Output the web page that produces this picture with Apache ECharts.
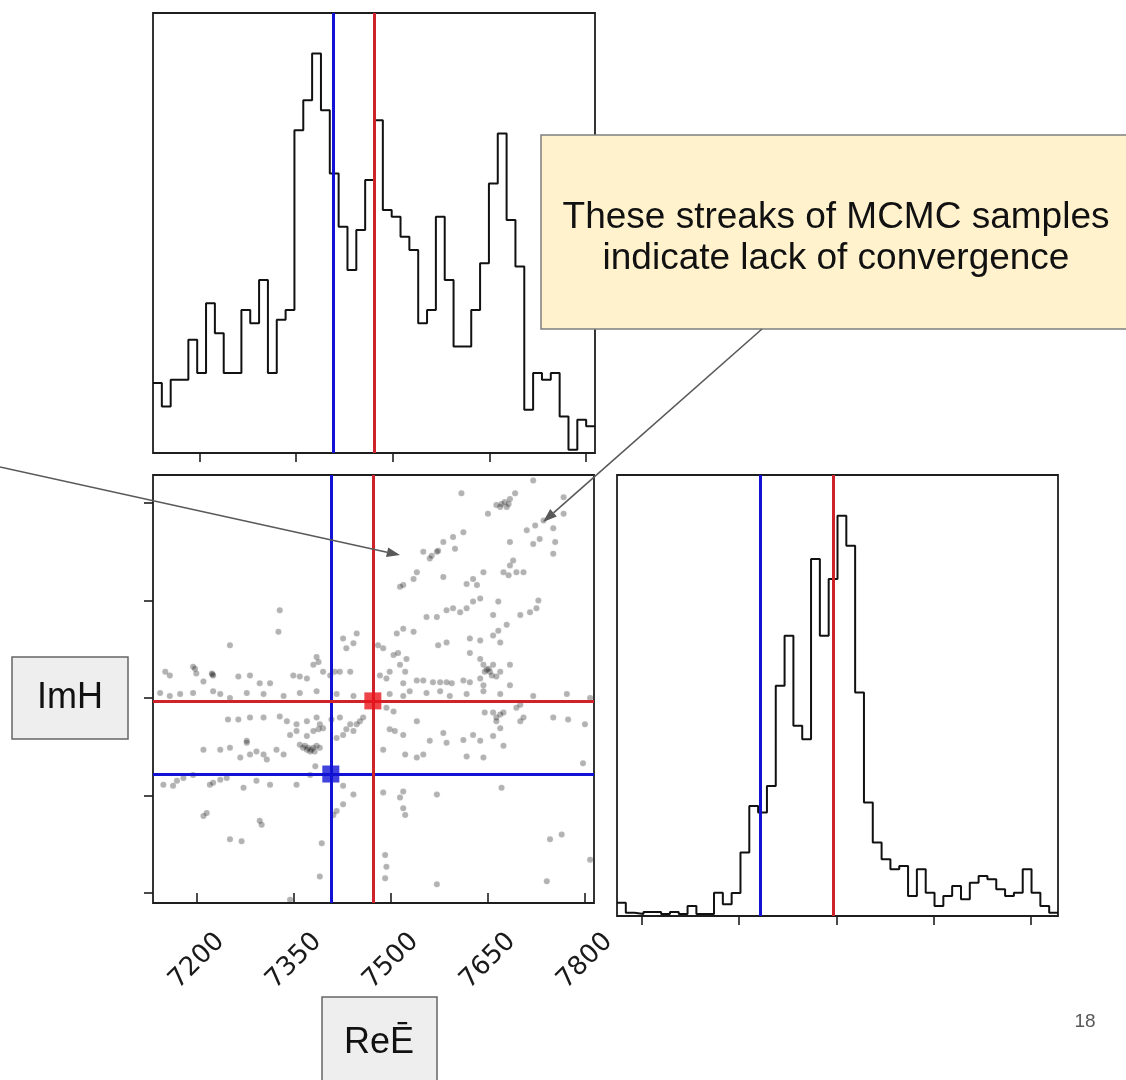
<!DOCTYPE html>
<html>
<head>
<meta charset="utf-8">
<script src="https://cdn.jsdelivr.net/npm/echarts@6/dist/echarts.min.js"></script>
<style>
  html, body { margin: 0; padding: 0; background: #ffffff; }
  #chart { width: 1126px; height: 1080px; }
</style>
</head>
<body>
<div id="chart"></div>
<script>
// Axis ranges of the three corner panels
const reRangeTop = [7128, 7814];
const reRange = [7132, 7814];
const imRangeScatter = [-0.103, 4.287];
const imRangeHist = [-0.257, 4.278];
const histMax = 132.2;

// Tick positions
const reTicks = [7200, 7350, 7500, 7650, 7800];
const imTicks = [0, 1, 2, 3, 4];

// Reference (red) and estimated (blue) parameter values
const reRed = 7472;
const reBlue = 7407;
const imRed = 1.97;
const imBlue = 1.22;

// Marginal histogram of ReĒ (50 bins)
const reCounts = [21, 14, 22, 22, 34, 24, 45, 36, 24, 24,
                  43, 39, 52, 24, 40, 43, 97, 106, 120, 103,
                  84, 68, 55, 67, 82, 100, 73, 71, 65, 61,
                  39, 43, 71, 52, 32, 32, 43, 57, 81, 96,
                  70, 56, 13, 24, 22, 24, 11, 1, 10, 8];

// Marginal histogram of ImH (50 bins)
const imCounts = [4, 1, 0.6, 1.2, 1.2, 0.6, 1.2, 0.6, 3, 0.6,
                  0.6, 7, 3.5, 6.9, 19, 33, 31, 39, 69, 84,
                  57, 53, 107, 84, 101, 120, 111, 67, 34, 22,
                  17, 14, 15, 6, 14, 7, 3, 6, 9, 5,
                  10, 12, 11, 8, 6, 7, 14, 7, 3, 1];

// MCMC samples [ReĒ, ImH]
const samples = [
  [7609, 4.10], [7663, 3.98], [7671, 3.99], [7679, 3.96], [7684, 4.04], [7692, 4.10], [7676, 4.01],
  [7650, 3.89], [7767, 4.06], [7720, 4.23], [7736, 3.82], [7723, 3.77], [7710, 3.72], [7751, 3.74],
  [7767, 3.89], [7684, 3.60], [7720, 3.58], [7730, 3.63], [7754, 3.60], [7751, 3.48], [7612, 3.70],
  [7596, 3.65], [7581, 3.60], [7571, 3.50], [7560, 3.43], [7550, 3.50], [7599, 3.53], [7540, 3.29],
  [7535, 3.22], [7519, 3.16], [7514, 3.14], [7689, 3.41], [7684, 3.36], [7682, 3.26], [7694, 3.29],
  [7705, 3.29], [7674, 3.29], [7643, 3.29], [7627, 3.22], [7617, 3.17], [7633, 3.16], [7581, 3.24],
  [7638, 3.02], [7627, 2.99], [7617, 2.92], [7607, 2.88], [7596, 2.92], [7586, 2.90], [7666, 2.99],
  [7658, 2.85], [7725, 2.92], [7715, 2.88], [7700, 2.85], [7728, 3.00], [7555, 2.83], [7571, 2.83],
  [7519, 2.71], [7509, 2.66], [7535, 2.68], [7679, 2.75], [7666, 2.69], [7658, 2.64], [7669, 2.57],
  [7638, 2.59], [7622, 2.61], [7586, 2.57], [7573, 2.54], [7480, 2.54], [7488, 2.51], [7504, 2.44],
  [7511, 2.46], [7524, 2.40], [7514, 2.34], [7522, 2.27], [7622, 2.46], [7638, 2.40], [7643, 2.34],
  [7648, 2.29], [7653, 2.27], [7656, 2.23], [7658, 2.34], [7669, 2.27], [7684, 2.34], [7638, 2.20],
  [7447, 2.66], [7442, 2.56], [7431, 2.51], [7426, 2.61], [7328, 2.90], [7326, 2.68], [7251, 2.54],
  [7385, 2.42], [7388, 2.37], [7380, 2.34], [7421, 2.27], [7413, 2.27], [7406, 2.23], [7395, 2.27],
  [7194, 2.32], [7199, 2.25], [7223, 2.25], [7225, 2.23], [7210, 2.17], [7151, 2.27], [7158, 2.23],
  [7264, 2.22], [7282, 2.23], [7297, 2.15], [7313, 2.15], [7349, 2.23], [7359, 2.22], [7370, 2.20],
  [7483, 2.23], [7493, 2.20], [7519, 2.15], [7540, 2.18], [7550, 2.18], [7565, 2.16], [7576, 2.16],
  [7586, 2.16], [7594, 2.15], [7612, 2.18], [7622, 2.16], [7643, 2.13], [7663, 2.22], [7684, 2.13],
  [7437, 2.27], [7498, 2.27],
  [7143, 2.05], [7174, 2.04], [7225, 2.07], [7251, 2.00], [7303, 2.04], [7359, 2.05], [7416, 2.04],
  [7498, 2.04], [7529, 2.07], [7555, 2.05], [7591, 2.02], [7643, 2.07], [7669, 2.04],
  [7248, 1.78], [7264, 1.78], [7282, 1.80], [7303, 1.80], [7328, 1.81], [7339, 1.76], [7354, 1.73],
  [7370, 1.76], [7385, 1.80], [7390, 1.73], [7395, 1.69], [7408, 1.78], [7421, 1.80], [7437, 1.73],
  [7442, 1.66], [7452, 1.76], [7457, 1.80], [7344, 1.62], [7354, 1.66], [7370, 1.61], [7380, 1.66],
  [7388, 1.68], [7359, 1.52], [7364, 1.49], [7370, 1.47], [7375, 1.45], [7380, 1.49], [7385, 1.51],
  [7390, 1.49], [7277, 1.56], [7303, 1.42], [7282, 1.42], [7267, 1.39], [7251, 1.49], [7236, 1.47],
  [7210, 1.47], [7323, 1.47], [7334, 1.42], [7308, 1.37], [7416, 1.59], [7426, 1.62], [7431, 1.68],
  [7447, 1.73], [7493, 1.90], [7504, 1.86], [7498, 1.68], [7506, 1.66], [7519, 1.62], [7540, 1.76],
  [7581, 1.64], [7560, 1.56], [7586, 1.54], [7612, 1.57], [7627, 1.62], [7638, 1.56], [7658, 1.61],
  [7674, 1.51], [7669, 1.69], [7663, 1.80], [7669, 1.83], [7658, 1.85], [7645, 1.85], [7700, 1.76],
  [7705, 1.80], [7751, 1.80], [7774, 1.78], [7800, 1.73], [7700, 1.93], [7694, 1.90], [7488, 1.47],
  [7522, 1.42], [7540, 1.39], [7550, 1.42], [7617, 1.40], [7643, 1.39],
  [7169, 1.15], [7179, 1.18], [7194, 1.21], [7220, 1.11], [7225, 1.13], [7236, 1.16], [7246, 1.18],
  [7148, 1.11], [7163, 1.10], [7272, 1.08], [7292, 1.15], [7313, 1.11], [7354, 1.11], [7375, 1.21],
  [7383, 1.30], [7426, 1.10], [7442, 1.01], [7426, 0.91], [7416, 0.84], [7488, 1.03], [7519, 1.04],
  [7514, 0.98], [7519, 0.87], [7571, 1.01], [7671, 1.08], [7797, 1.33],
  [7210, 0.79], [7215, 0.82], [7297, 0.74], [7300, 0.70], [7251, 0.55], [7269, 0.53], [7393, 0.51],
  [7411, 0.80], [7491, 0.39], [7493, 0.27], [7491, 0.15], [7522, 0.80], [7571, 0.09], [7741, 0.12],
  [7746, 0.55], [7764, 0.60], [7808, 0.34], [7390, 0.17], [7344, -0.07],
  [7367, 1.51], [7372, 1.49], [7377, 1.47], [7382, 1.45], [7292, 1.45], [7651, 2.30], [7645, 2.27],
  [7663, 1.76], [7674, 1.85], [7277, 1.54], [7669, 3.96], [7682, 3.99], [7563, 3.46], [7573, 3.51],
  [7197, 2.30], [7224, 2.24],
  [7158, 2.02], [7194, 2.05], [7236, 2.04], [7277, 2.05], [7334, 2.02], [7385, 2.07], [7442, 2.02],
  [7519, 2.02], [7576, 2.07], [7617, 2.04], [7720, 2.02], [7772, 2.04], [7808, 2.00]
];

const BLUE = '#1212d4';
const RED = '#d0222a';
const SPINE = '#1e1e1e';

// Step outline of a histogram: each bin contributes its left and right edge at its height
function stepOutline(counts, lo, hi) {
  const w = (hi - lo) / counts.length;
  const pts = [];
  counts.forEach((c, i) => {
    pts.push([lo + i * w, c]);
    pts.push([lo + (i + 1) * w, c]);
  });
  return pts;
}

function tickAxis(gridIndex, range, ticks, showLabels) {
  return {
    type: 'value',
    gridIndex: gridIndex,
    min: range[0],
    max: range[1],
    axisLine: { show: false },
    splitLine: { show: false },
    axisTick: {
      show: true,
      length: 9,
      inside: false,
      customValues: ticks,
      lineStyle: { color: SPINE, width: 1.6 }
    },
    axisLabel: showLabels ? {
      show: true,
      customValues: ticks,
      formatter: (v) => String(v),
      rotate: 45,
      align: 'center',
      verticalAlign: 'middle',
      margin: 58,
      color: '#1a1a1a',
      fontFamily: 'DejaVu Sans',
      fontSize: 26
    } : { show: false }
  };
}

function hiddenAxis(gridIndex, range) {
  return {
    type: 'value',
    gridIndex: gridIndex,
    min: range[0],
    max: range[1],
    axisLine: { show: false },
    axisTick: { show: false },
    axisLabel: { show: false },
    splitLine: { show: false }
  };
}

function vLine(value, color) {
  return { xAxis: value, lineStyle: { color: color, width: 3, type: 'solid' } };
}
function hLine(value, color) {
  return { yAxis: value, lineStyle: { color: color, width: 3, type: 'solid' } };
}
function markLines(items) {
  return {
    silent: true,
    symbol: ['none', 'none'],
    label: { show: false },
    emphasis: { disabled: true },
    animation: false,
    data: items
  };
}

const gridStyle = {
  show: true,
  borderColor: SPINE,
  borderWidth: 1.8,
  backgroundColor: 'transparent',
  containLabel: false,
  outerBoundsMode: 'none'
};

const chart = echarts.init(document.getElementById('chart'), null, { renderer: 'canvas' });

chart.setOption({
  backgroundColor: '#ffffff',
  animation: false,
  grid: [
    Object.assign({ left: 153, top: 13, width: 442, height: 440 }, gridStyle),
    Object.assign({ left: 153, top: 475, width: 441, height: 428 }, gridStyle),
    Object.assign({ left: 617, top: 475, width: 441, height: 441 }, gridStyle)
  ],
  xAxis: [
    tickAxis(0, reRangeTop, reTicks, false),
    tickAxis(1, reRange, reTicks, true),
    tickAxis(2, imRangeHist, imTicks, false)
  ],
  yAxis: [
    hiddenAxis(0, [0, histMax]),
    tickAxis(1, imRangeScatter, imTicks, false),
    hiddenAxis(2, [0, histMax])
  ],
  series: [
    {
      name: 'ReĒ histogram',
      type: 'line',
      xAxisIndex: 0,
      yAxisIndex: 0,
      data: stepOutline(reCounts, reRangeTop[0], reRangeTop[1]),
      showSymbol: false,
      symbol: 'none',
      lineStyle: { color: '#111111', width: 2 },
      silent: true,
      markLine: markLines([vLine(reBlue, BLUE), vLine(reRed, RED)])
    },
    {
      name: 'samples',
      type: 'scatter',
      xAxisIndex: 1,
      yAxisIndex: 1,
      data: samples,
      symbol: 'circle',
      symbolSize: 6,
      itemStyle: { color: 'rgba(20,20,20,0.34)', shadowBlur: 2, shadowColor: 'rgba(20,20,20,0.25)' },
      silent: true,
      markLine: markLines([vLine(reBlue, BLUE), hLine(imBlue, BLUE), vLine(reRed, RED), hLine(imRed, RED)])
    },
    {
      name: 'estimate',
      type: 'scatter',
      xAxisIndex: 1,
      yAxisIndex: 1,
      data: [[reBlue, imBlue]],
      symbol: 'rect',
      symbolSize: 17,
      itemStyle: { color: BLUE },
      silent: true,
      z: 5
    },
    {
      name: 'reference',
      type: 'scatter',
      xAxisIndex: 1,
      yAxisIndex: 1,
      data: [[reRed, imRed]],
      symbol: 'rect',
      symbolSize: 17,
      itemStyle: { color: '#e8141c' },
      silent: true,
      z: 5
    },
    {
      name: 'ImH histogram',
      type: 'line',
      xAxisIndex: 2,
      yAxisIndex: 2,
      data: stepOutline(imCounts, imRangeHist[0], imRangeHist[1]),
      showSymbol: false,
      symbol: 'none',
      lineStyle: { color: '#111111', width: 2 },
      silent: true,
      markLine: markLines([vLine(imBlue, BLUE), vLine(imRed, RED)])
    }
  ],
  graphic: [
    // annotation box
    {
      type: 'rect', z: 100,
      shape: { x: 541, y: 135, width: 600, height: 194 },
      style: { fill: '#fff2cc', stroke: '#7f7f7f', lineWidth: 1.5 }
    },
    {
      type: 'text', z: 101,
      style: {
        x: 836, y: 238,
        text: 'These streaks of MCMC samples\nindicate lack of convergence',
        font: '37px "Liberation Sans", Arial, sans-serif',
        lineHeight: 41,
        fill: '#111111',
        align: 'center', verticalAlign: 'middle',
        textAlign: 'center', textVerticalAlign: 'middle'
      }
    },
    // pointer arrows
    {
      type: 'line', z: 100,
      shape: { x1: 0, y1: 467, x2: 387, y2: 552.2 },
      style: { stroke: '#595959', lineWidth: 1.6 }
    },
    {
      type: 'polygon', z: 100,
      shape: { points: [[400, 555], [386, 557], [388.2, 547.4]] },
      style: { fill: '#595959' }
    },
    {
      type: 'line', z: 100,
      shape: { x1: 762, y1: 329, x2: 553.5, y2: 512.8 },
      style: { stroke: '#595959', lineWidth: 1.6 }
    },
    {
      type: 'polygon', z: 100,
      shape: { points: [[543, 522], [556.8, 516.5], [550.2, 509.0]] },
      style: { fill: '#595959' }
    },
    // axis name boxes
    {
      type: 'rect', z: 100,
      shape: { x: 12, y: 657, width: 116, height: 82 },
      style: { fill: '#eeeeee', stroke: '#666666', lineWidth: 1.5 }
    },
    {
      type: 'text', z: 101,
      style: {
        x: 70, y: 698, text: 'ImH',
        font: '36px "Liberation Sans", Arial, sans-serif',
        fill: '#111111',
        align: 'center', verticalAlign: 'middle',
        textAlign: 'center', textVerticalAlign: 'middle'
      }
    },
    {
      type: 'rect', z: 100,
      shape: { x: 322, y: 997, width: 115, height: 95 },
      style: { fill: '#eeeeee', stroke: '#666666', lineWidth: 1.5 }
    },
    {
      type: 'text', z: 101,
      style: {
        x: 379, y: 1043, text: 'ReĒ',
        font: '36px "Liberation Sans", Arial, sans-serif',
        fill: '#111111',
        align: 'center', verticalAlign: 'middle',
        textAlign: 'center', textVerticalAlign: 'middle'
      }
    },
    // slide number
    {
      type: 'text', z: 101,
      style: {
        x: 1085, y: 1022, text: '18',
        font: '19px "Liberation Sans", Arial, sans-serif',
        fill: '#595959',
        align: 'center', verticalAlign: 'middle',
        textAlign: 'center', textVerticalAlign: 'middle'
      }
    }
  ]
});
</script>
</body>
</html>
